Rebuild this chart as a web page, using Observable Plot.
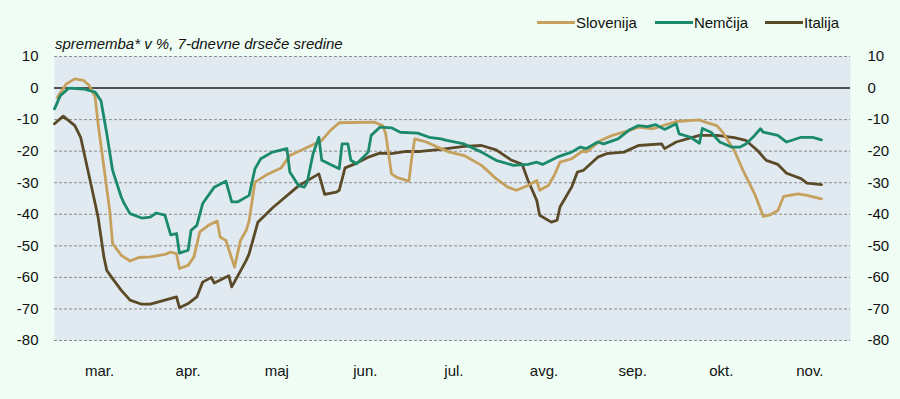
<!DOCTYPE html>
<html><head><meta charset="utf-8">
<script src="https://cdn.jsdelivr.net/npm/d3@7"></script>
<script src="https://cdn.jsdelivr.net/npm/@observablehq/plot@0.6"></script>
<style>
body{margin:0;background:#effdf4;}
#wrap{position:relative;width:900px;height:399px;background:#effdf4;font-family:"Liberation Sans",Arial,sans-serif;color:#111;overflow:hidden;}
#chart{position:absolute;left:0;top:0;}
#subtitle{position:absolute;left:55px;top:36px;font-size:15px;line-height:15px;font-style:italic;white-space:nowrap;}
#legend{position:absolute;left:537px;top:15px;display:flex;align-items:center;font-size:15px;line-height:15px;white-space:nowrap;}
.item{display:flex;align-items:center;}
.swatch{width:38px;height:2.5px;margin-right:1px;}
</style></head><body>
<div id="wrap"><div id="chart"></div><div id="subtitle">sprememba* v %, 7-dnevne drseče sredine</div><div id="legend"></div></div>
<script>
const seriesNames = ["Slovenija", "Nemčija", "Italija"];
const seriesColors = ["#c6a15e", "#1b8a6b", "#5b4a27"];
const monthLabels = ["mar.","apr.","maj","jun.","jul.","avg.","sep.","okt.","nov."];
const yTicks = [10, 0, -10, -20, -30, -40, -50, -60, -70, -80];

const slovenija = [["03-02",-3],["03-05",1.3],["03-08",2.9],["03-11",2.4],["03-13",0.8],["03-15",-2.9],["03-16",-11.3],["03-18",-25],["03-20",-38.8],["03-21",-49.3],["03-24",-53],["03-27",-54.8],["03-30",-53.7],["04-03",-53.5],["04-08",-52.7],["04-10",-52],["04-12",-52.5],["04-13",-57.2],["04-16",-56.2],["04-18",-53.5],["04-20",-45.6],["04-23",-43.5],["04-26",-42.1],["04-27",-47.2],["04-29",-48.3],["05-01",-54],["05-02",-56.7],["05-04",-48.3],["05-06",-45.1],["05-07",-42],["05-09",-29.8],["05-13",-27.5],["05-18",-25.3],["05-21",-21.4],["05-26",-19.2],["06-01",-16.6],["06-04",-13.4],["06-07",-11],["06-19",-10.8],["06-22",-11.9],["06-23",-14.5],["06-25",-27.2],["06-27",-28.4],["07-01",-29.5],["07-02",-21.9],["07-03",-16.1],["07-07",-17.1],["07-12",-19.2],["07-15",-20.3],["07-20",-21.4],["07-26",-24.5],["07-31",-28.7],["08-04",-31.4],["08-07",-32.4],["08-11",-30.9],["08-14",-29.3],["08-15",-32.4],["08-18",-30.9],["08-20",-27.7],["08-22",-23.5],["08-26",-22.4],["08-30",-19.8],["08-31",-20.3],["09-05",-16.6],["09-09",-15],["09-15",-13.4],["09-18",-12.4],["09-23",-12.9],["10-01",-10.6],["10-09",-10.1],["10-11",-10.8],["10-15",-11.9],["10-17",-14],["10-21",-19.8],["10-24",-26.1],["10-28",-33.5],["10-31",-40.7],["11-02",-40.3],["11-05",-38.8],["11-07",-34.3],["11-12",-33.5],["11-15",-34],["11-20",-35.1]];

const nemcija = [["03-01",-6.6],["03-03",-2.4],["03-06",0],["03-11",-0.3],["03-15",-1.3],["03-17",-4],["03-19",-14.5],["03-21",-26.1],["03-24",-34.6],["03-25",-36.6],["03-27",-39.8],["03-31",-41.2],["04-03",-40.9],["04-05",-39.6],["04-08",-40.3],["04-10",-46.5],["04-12",-46.1],["04-13",-52.3],["04-16",-51.4],["04-17",-45.1],["04-19",-43.5],["04-21",-36.6],["04-25",-31.4],["04-29",-29.5],["05-01",-36.1],["05-03",-36.1],["05-07",-34],["05-09",-25.6],["05-11",-22.4],["05-15",-20.3],["05-20",-19.2],["05-21",-26.6],["05-24",-30.9],["05-26",-31.4],["05-27",-29.8],["05-29",-20.8],["05-31",-15.6],["06-01",-22.9],["06-07",-25.6],["06-08",-17.7],["06-10",-17.7],["06-11",-22.9],["06-13",-24],["06-17",-20.3],["06-18",-15],["06-21",-12.4],["06-25",-12.6],["06-28",-14],["07-04",-14.3],["07-08",-15.6],["07-12",-16.1],["07-14",-16.6],["07-20",-17.7],["07-26",-20.3],["07-31",-22.9],["08-06",-24.5],["08-11",-24.2],["08-14",-23.5],["08-16",-24.2],["08-21",-21.9],["08-26",-20.3],["08-29",-18.7],["08-31",-19.2],["09-04",-17.1],["09-06",-17.7],["09-11",-16.1],["09-15",-13.2],["09-18",-11.9],["09-21",-12.2],["09-24",-11.6],["09-27",-13.1],["10-01",-11.3],["10-02",-14.5],["10-06",-15.6],["10-09",-17.5],["10-10",-12.8],["10-13",-14],["10-16",-17.1],["10-20",-18.7],["10-23",-18.7],["10-25",-17.7],["10-28",-15],["10-30",-12.9],["10-31",-14],["11-05",-15],["11-08",-17.1],["11-13",-15.6],["11-17",-15.6],["11-20",-16.4]];

const italija = [["03-01",-11.3],["03-04",-8.9],["03-08",-11.9],["03-10",-15.6],["03-12",-24],["03-14",-32.4],["03-16",-40.9],["03-17",-47.2],["03-18",-53.5],["03-19",-57.8],["03-21",-60.4],["03-24",-64.1],["03-27",-67.2],["03-31",-68.5],["04-03",-68.5],["04-08",-67.2],["04-12",-66.2],["04-13",-69.6],["04-16",-68.3],["04-19",-66.2],["04-21",-61.5],["04-24",-60],["04-25",-61.8],["04-30",-59.5],["05-01",-63],["05-03",-59.7],["05-06",-54.6],["05-07",-52.5],["05-10",-42.5],["05-15",-38],["05-24",-31],["05-31",-27.2],["06-02",-33.7],["06-06",-33],["06-07",-32.4],["06-09",-25.3],["06-12",-24.2],["06-17",-21.9],["06-21",-20.6],["06-25",-20.8],["06-30",-20.1],["07-05",-20.1],["07-12",-19.4],["07-20",-18.5],["07-26",-18.2],["07-31",-19.6],["08-05",-22.7],["08-09",-24.2],["08-11",-29.3],["08-14",-35.6],["08-15",-40.3],["08-19",-42.5],["08-21",-41.9],["08-22",-37.7],["08-26",-31.4],["08-28",-26.6],["08-30",-26.1],["09-04",-21.9],["09-07",-20.8],["09-13",-20.3],["09-18",-18.2],["09-26",-17.7],["09-27",-19.2],["10-01",-17.1],["10-09",-15],["10-15",-15],["10-21",-15.7],["10-25",-16.6],["10-29",-19.8],["11-01",-22.9],["11-05",-24.2],["11-08",-27],["11-13",-28.7],["11-15",-30.1],["11-20",-30.6]];

const toRows = (arr) => arr.map(([d, v]) => ({date: new Date("2020-" + d + "T00:00:00Z"), value: v}));
const rowsSlo = toRows(slovenija), rowsNem = toRows(nemcija), rowsIta = toRows(italija);

const monthStarts = d3.range(0, 10).map(i => new Date(Date.UTC(2020, 2 + i, 1)));
const monthMid = monthLabels.map((_, i) => new Date((+monthStarts[i] + +monthStarts[i + 1]) / 2));

const chart = Plot.plot({
  width: 900, height: 399,
  marginLeft: 54, marginRight: 50, marginTop: 56, marginBottom: 59,
  style: {background: "transparent", fontFamily: "Liberation Sans, Arial, sans-serif", fontSize: "15px", color: "#111", overflow: "visible"},
  x: {type: "utc", domain: [new Date("2020-03-01T00:00:00Z"), new Date("2020-11-30T00:00:00Z")], label: null},
  y: {domain: [-80, 10], label: null},
  marks: [
    Plot.frame({fill: "#e1eaf1", stroke: null}),
    Plot.ruleY(yTicks.filter(d => d !== 0), {stroke: "#8c8c8c", strokeDasharray: "3,2", strokeWidth: 1}),
    Plot.ruleY([0], {stroke: "#4f4f4f", strokeWidth: 2}),
    Plot.line(rowsIta, {x: "date", y: "value", stroke: seriesColors[2], strokeWidth: 2.8}),
    Plot.line(rowsSlo, {x: "date", y: "value", stroke: seriesColors[0], strokeWidth: 2.8}),
    Plot.line(rowsNem, {x: "date", y: "value", stroke: seriesColors[1], strokeWidth: 2.8}),
    Plot.axisX(monthMid, {tickSize: 0, tickPadding: 25, label: null, tickFormat: d => monthLabels[monthMid.findIndex(m => +m === +d)]}),
    Plot.axisY(yTicks, {anchor: "left", tickSize: 0, tickPadding: 16, label: null, tickFormat: d => String(d)}),
    Plot.axisY(yTicks, {anchor: "right", tickSize: 0, tickPadding: 17, label: null, tickFormat: d => String(d)})
  ]
});
document.getElementById("chart").appendChild(chart);

const legend = document.getElementById("legend");
const gaps = [18, 17, 0];
seriesNames.forEach((name, i) => {
  const item = document.createElement("div");
  item.className = "item";
  item.style.marginRight = gaps[i] + "px";
  const sw = document.createElement("span");
  sw.className = "swatch";
  sw.style.background = seriesColors[i];
  const lab = document.createElement("span");
  lab.textContent = name;
  item.appendChild(sw); item.appendChild(lab);
  legend.appendChild(item);
});
</script>
</body></html>
